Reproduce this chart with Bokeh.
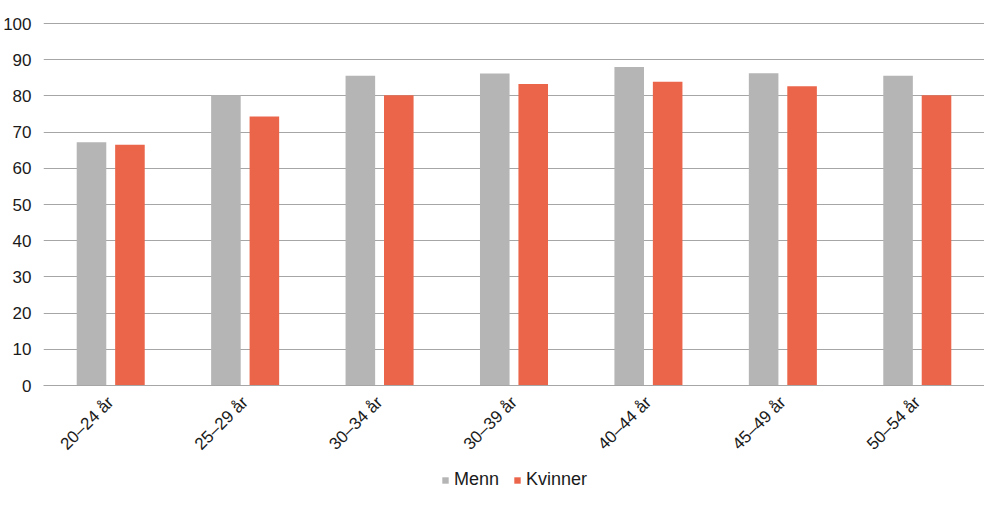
from bokeh.plotting import figure
from bokeh.models import FactorRange, Legend, LegendItem, ColumnDataSource, SingleIntervalTicker, Range1d
from bokeh.layouts import column
from bokeh.transform import dodge
from bokeh.embed import file_html
from bokeh.resources import INLINE
import math

categories = ["20–24 år", "25–29 år", "30–34 år", "30–39 år", "40–44 år", "45–49 år", "50–54 år"]
menn = [67.2, 80.2, 85.6, 86.2, 88.0, 86.3, 85.6]
kvinner = [66.5, 74.3, 80.2, 83.3, 83.9, 82.7, 80.2]
series_names = ["Menn", "Kvinner"]
colors = ["#b5b5b5", "#eb654a"]

src = ColumnDataSource(dict(cat=categories, menn=menn, kvinner=kvinner))

p = figure(x_range=FactorRange(*categories), y_range=Range1d(0, 100.3),
           width=984, height=466, output_backend="svg", toolbar_location=None,
           min_border_left=35, min_border_right=0, min_border_top=22, min_border_bottom=81)
p.outline_line_color = None

r1 = p.vbar(x=dodge("cat", -0.143, range=p.x_range), top="menn", width=0.22,
            source=src, fill_color=colors[0], line_color=None)
r2 = p.vbar(x=dodge("cat", 0.143, range=p.x_range), top="kvinner", width=0.22,
            source=src, fill_color=colors[1], line_color=None)

p.x_range.range_padding = 0
p.yaxis.ticker = SingleIntervalTicker(interval=10)
p.ygrid.grid_line_color = "#a6a6a6"
p.ygrid.grid_line_width = 1
p.xgrid.grid_line_color = None

for ax in (p.xaxis[0], p.yaxis[0]):
    ax.major_label_text_font = "Liberation Sans"
    ax.major_label_text_font_size = "17px"
    ax.major_label_text_color = "#1a1a1a"
    ax.major_tick_line_color = None
    ax.minor_tick_line_color = None

p.yaxis.axis_line_color = None
p.yaxis.major_label_standoff = 6
p.xaxis.axis_line_color = "#a6a6a6"
p.xaxis.major_label_orientation = math.pi / 4
p.xaxis.major_label_standoff = 8

# legend strip below the chart (its glyph renderers hold no visible data)
lg = figure(width=984, height=39, output_backend="svg", toolbar_location=None,
            x_range=Range1d(0, 1), y_range=Range1d(0, 1),
            min_border_left=0, min_border_right=0, min_border_top=0, min_border_bottom=0)
lg.axis.visible = False
lg.grid.visible = False
lg.outline_line_color = None
e1 = lg.vbar(x=[-5], top=[-5], bottom=[-6], width=0.1, fill_color=colors[0], line_color=None)
e2 = lg.vbar(x=[-5], top=[-5], bottom=[-6], width=0.1, fill_color=colors[1], line_color=None)
legend = Legend(items=[LegendItem(label=series_names[0], renderers=[e1]),
                       LegendItem(label=series_names[1], renderers=[e2])],
                orientation="horizontal", location=(398, 15),
                label_text_font="Liberation Sans", label_text_font_size="18px",
                label_text_color="#1a1a1a", glyph_width=8, glyph_height=8,
                spacing=14, label_standoff=5, border_line_color=None,
                background_fill_alpha=0, margin=0, padding=0)
lg.add_layout(legend, "center")

layout = column(p, lg, spacing=0)
open("out.html", "w").write(file_html(layout, INLINE))
